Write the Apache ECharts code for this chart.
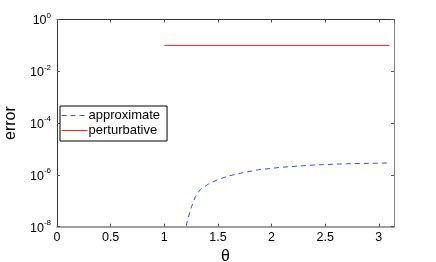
<!DOCTYPE html>
<html><head><meta charset="utf-8">
<script src="https://cdn.jsdelivr.net/npm/echarts@6/dist/echarts.min.js"></script>
<style>html,body{margin:0;padding:0;background:#fff}#c{width:436px;height:262px}</style>
</head><body><div id="c"></div>
<script>
var xTicks = [0, 0.5, 1, 1.5, 2, 2.5, 3];
var yTickExponents = [-8, -6, -4, -2, 0];
var approxTheta = [1.17, 1.203, 1.243, 1.29, 1.337, 1.414, 1.507, 1.6, 1.726, 1.88, 2.08, 2.39, 2.70, 3.11];
var approxError = [1e-9, 1.05e-8, 4.4e-8, 1.45e-7, 2.75e-7, 4.5e-7, 6.8e-7, 9.1e-7, 1.2e-6, 1.58e-6, 1.95e-6, 2.4e-6, 2.7e-6, 2.9e-6];
var pertTheta = [1.0, 3.1];
var pertError = [0.1, 0.1];

var FONT = 'Liberation Sans';
function zip(a, b) { return a.map(function (v, i) { return [v, b[i]]; }); }
function expOf(v) { return Math.round(Math.log(v) / Math.LN10); }

var chart = echarts.init(document.getElementById('c'), null, {renderer: 'canvas'});
var axisCol = '#333';
chart.setOption({
  animation: false,
  backgroundColor: '#fff',
  textStyle: {fontFamily: FONT},
  grid: {left: 57, right: 42, top: 19.5, bottom: 35.3, containLabel: false, outerBoundsMode: 'none'},
  legend: {
    orient: 'vertical', left: 60, top: 106,
    backgroundColor: '#fff', borderColor: '#000', borderWidth: 1,
    padding: [3, 7, 4, 1], itemWidth: 26, itemHeight: 14, itemGap: 2,
    itemStyle: {opacity: 0},
    lineStyle: {width: 1},
    textStyle: {fontFamily: FONT, fontSize: 13, color: '#000', padding: [0, 0, 0, -4]},
    data: ['approximate', 'perturbative']
  },
  xAxis: [{
    type: 'value', min: 0, max: Math.PI, interval: 0.5,
    name: 'θ', nameLocation: 'middle', nameGap: 19,
    nameTextStyle: {fontFamily: FONT, fontSize: 16, color: '#000'},
    axisLine: {show: true, onZero: false, lineStyle: {color: '#808080', width: 1.5}},
    axisTick: {show: true, inside: true, length: 3, lineStyle: {color: '#555'}},
    axisLabel: {
      fontFamily: FONT, fontSize: 12.5, color: '#000', margin: 4,
      showMaxLabel: false,
      formatter: function (v) { return Math.abs(v - Math.round(v * 2) / 2) < 1e-6 && xTicks.indexOf(Math.round(v * 2) / 2) >= 0 ? String(v) : ''; }
    },
    splitLine: {show: false}
  }, {
    type: 'value', min: 0, max: Math.PI, interval: 0.5, position: 'top',
    axisLine: {show: true, onZero: false, lineStyle: {color: axisCol, width: 1}},
    axisTick: {show: true, inside: true, length: 3, lineStyle: {color: '#555'}},
    axisLabel: {show: false}, splitLine: {show: false}
  }],
  yAxis: [{
    type: 'log', logBase: 10, min: 1e-8, max: 1, interval: 2,
    name: 'error', nameLocation: 'middle', nameGap: 27,
    nameTextStyle: {fontFamily: FONT, fontSize: 16, color: '#000'},
    axisLine: {show: true, onZero: false, lineStyle: {color: axisCol, width: 1}},
    axisTick: {show: true, inside: true, length: 3, lineStyle: {color: '#555'}},
    axisLabel: {
      margin: 6, color: '#000',
      formatter: function (v) { return '{b|10}{s|' + expOf(v) + '}'; },
      rich: {
        b: {fontFamily: FONT, fontSize: 12.5, color: '#000', verticalAlign: 'bottom', lineHeight: 16},
        s: {fontFamily: FONT, fontSize: 8, color: '#000', verticalAlign: 'top', lineHeight: 16}
      }
    },
    splitLine: {show: false}
  }, {
    type: 'log', logBase: 10, min: 1e-8, max: 1, interval: 2, position: 'right',
    axisLine: {show: true, onZero: false, lineStyle: {color: '#808080', width: 1}},
    axisTick: {show: true, inside: true, length: 3, lineStyle: {color: '#555'}},
    axisLabel: {show: false}, splitLine: {show: false}
  }],
  series: [{
    name: 'approximate', type: 'line', xAxisIndex: 0, yAxisIndex: 0,
    data: zip(approxTheta, approxError), smooth: false, symbol: 'none', clip: true,
    lineStyle: {color: '#3050ff', width: 1, type: [5, 4]},
    itemStyle: {color: '#3050ff'}
  }, {
    name: 'perturbative', type: 'line', xAxisIndex: 0, yAxisIndex: 0,
    data: zip(pertTheta, pertError), symbol: 'none', clip: true,
    lineStyle: {color: '#ff2020', width: 1},
    itemStyle: {color: '#ff2020'}
  }]
});
</script></body></html>
